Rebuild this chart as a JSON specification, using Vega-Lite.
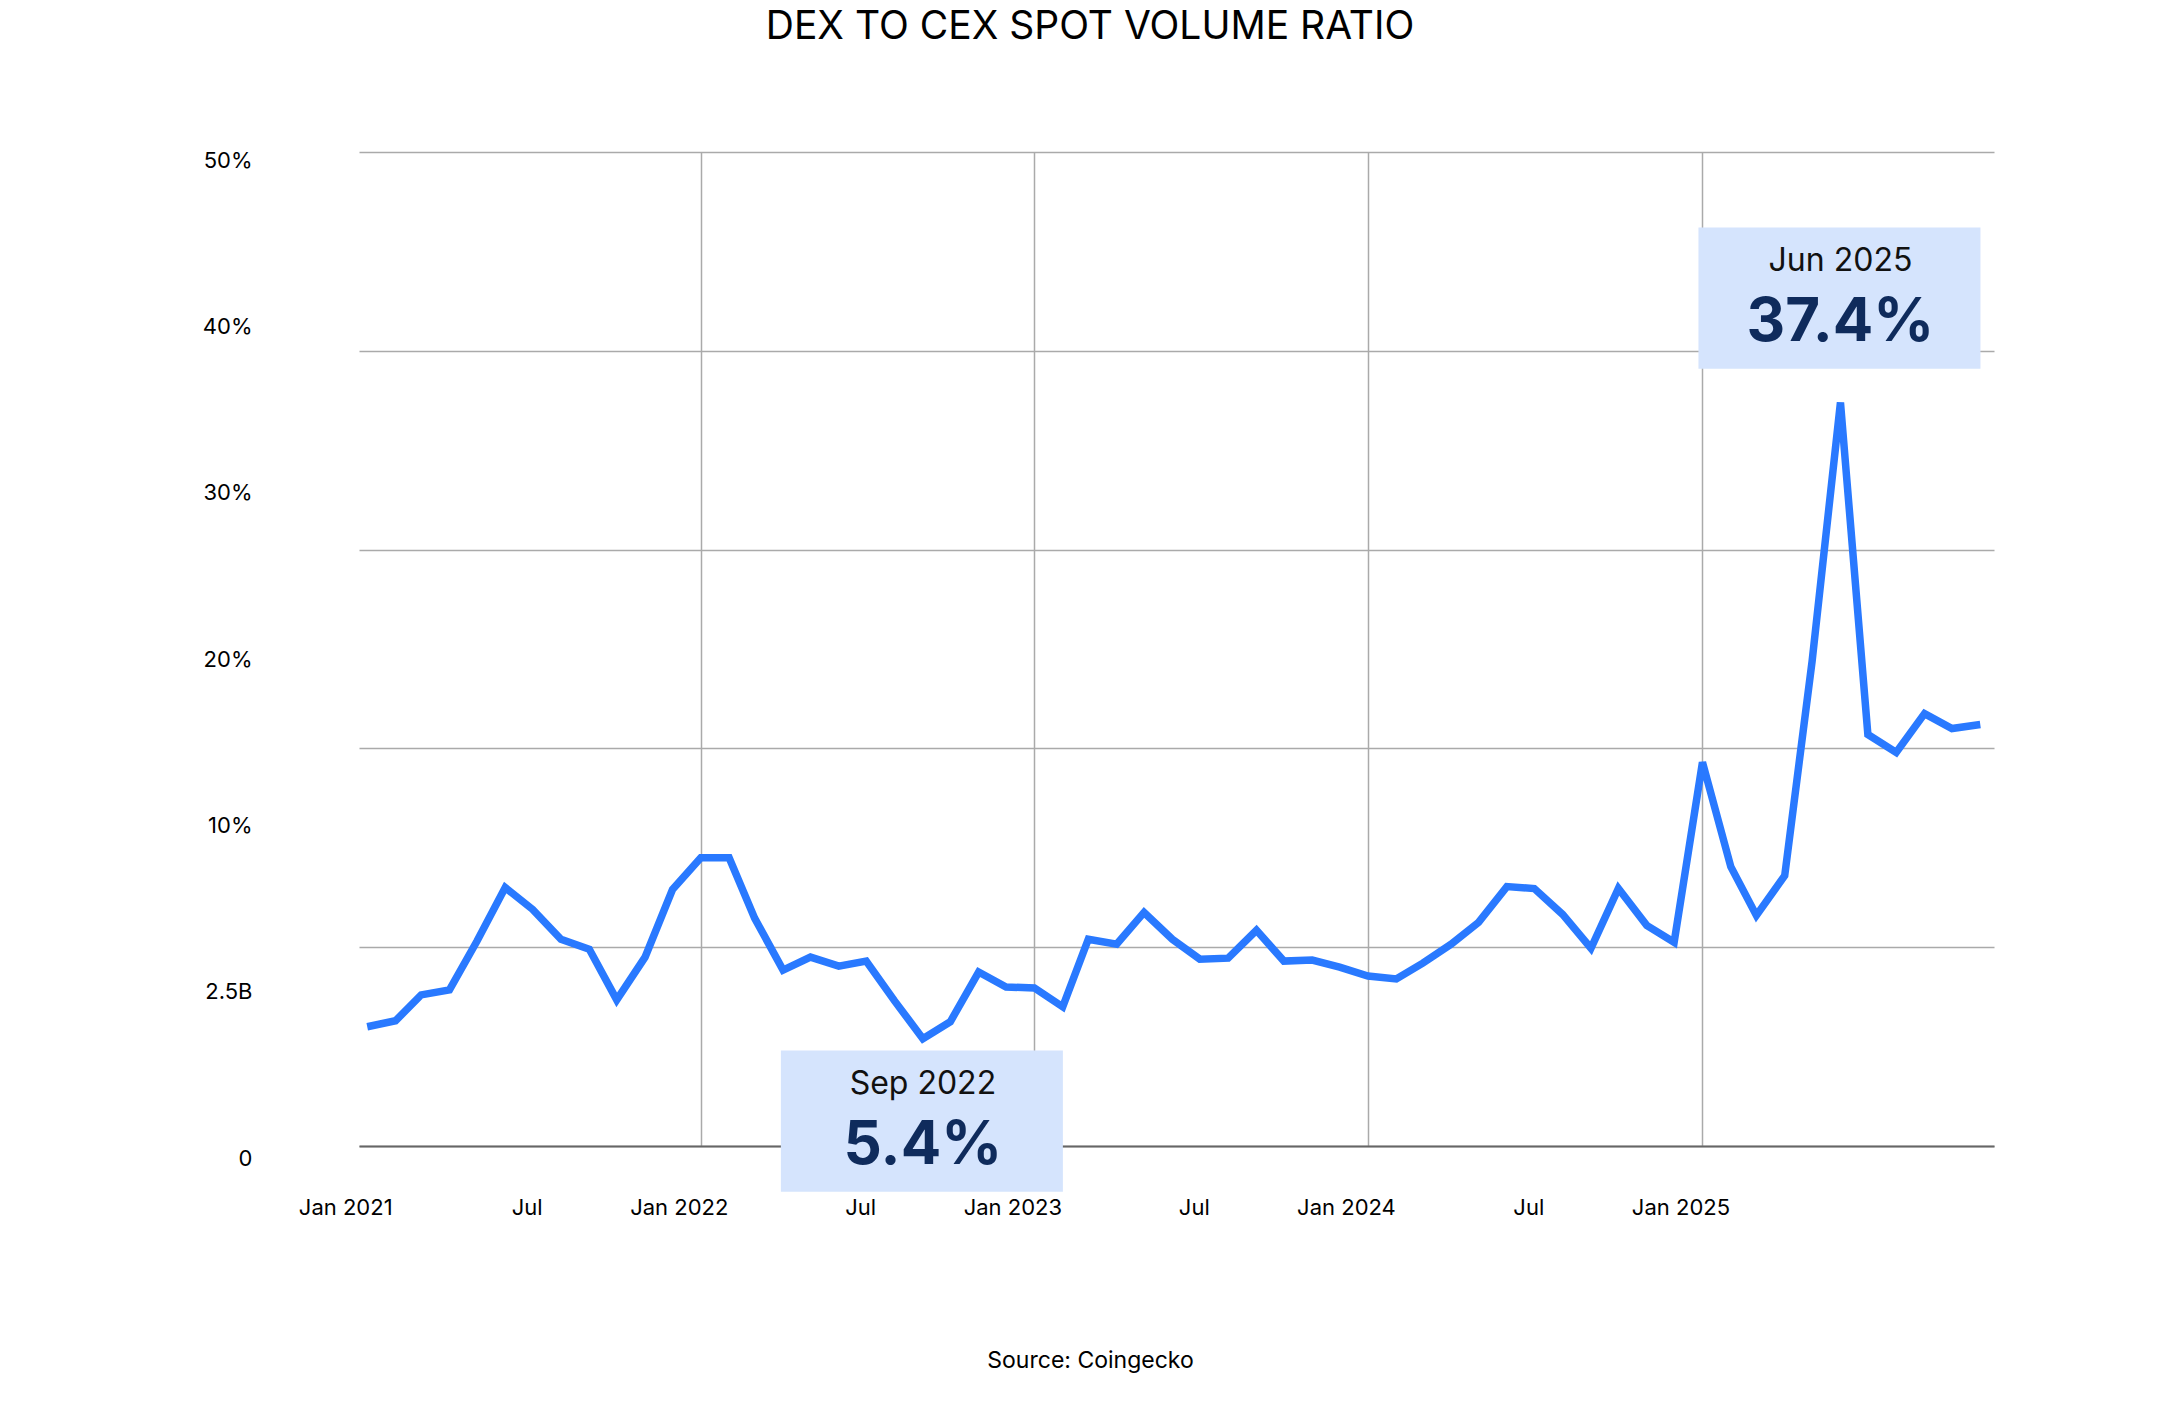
{
  "$schema": "https://vega.github.io/schema/vega-lite/v6.json",
  "width": 1635,
  "height": 994,
  "autosize": {"type": "none"},
  "padding": {"left": 359, "top": 152, "right": 186, "bottom": 279},
  "background": "white",
  "title": {
    "text": "DEX TO CEX SPOT VOLUME RATIO",
    "font": "Inter",
    "fontSize": 39,
    "fontWeight": "normal",
    "color": "#000000",
    "anchor": "middle",
    "frame": "group",
    "dx": -86.5,
    "baseline": "middle",
    "offset": 83
  },
  "config": {"view": {"stroke": null}, "font": "Inter"},
  "datasets": {
    "ratio": [
      {"month": "2021-01-01", "ratio": 6.0},
      {"month": "2021-02-01", "ratio": 6.3},
      {"month": "2021-03-01", "ratio": 7.6},
      {"month": "2021-04-01", "ratio": 7.85},
      {"month": "2021-05-01", "ratio": 10.3},
      {"month": "2021-06-01", "ratio": 13.0},
      {"month": "2021-07-01", "ratio": 11.9},
      {"month": "2021-08-01", "ratio": 10.4},
      {"month": "2021-09-01", "ratio": 9.9},
      {"month": "2021-10-01", "ratio": 7.35},
      {"month": "2021-11-01", "ratio": 9.5},
      {"month": "2021-12-01", "ratio": 12.9},
      {"month": "2022-01-01", "ratio": 14.5},
      {"month": "2022-02-01", "ratio": 14.5},
      {"month": "2022-03-01", "ratio": 11.45},
      {"month": "2022-04-01", "ratio": 8.85},
      {"month": "2022-05-01", "ratio": 9.5},
      {"month": "2022-06-01", "ratio": 9.05},
      {"month": "2022-07-01", "ratio": 9.3},
      {"month": "2022-08-01", "ratio": 7.3},
      {"month": "2022-09-01", "ratio": 5.4},
      {"month": "2022-10-01", "ratio": 6.25},
      {"month": "2022-11-01", "ratio": 8.75},
      {"month": "2022-12-01", "ratio": 8.0},
      {"month": "2023-01-01", "ratio": 7.95},
      {"month": "2023-02-01", "ratio": 7.0},
      {"month": "2023-03-01", "ratio": 10.4},
      {"month": "2023-04-01", "ratio": 10.15},
      {"month": "2023-05-01", "ratio": 11.75},
      {"month": "2023-06-01", "ratio": 10.4},
      {"month": "2023-07-01", "ratio": 9.4},
      {"month": "2023-08-01", "ratio": 9.45},
      {"month": "2023-09-01", "ratio": 10.85},
      {"month": "2023-10-01", "ratio": 9.3},
      {"month": "2023-11-01", "ratio": 9.35},
      {"month": "2023-12-01", "ratio": 9.0},
      {"month": "2024-01-01", "ratio": 8.55},
      {"month": "2024-02-01", "ratio": 8.4},
      {"month": "2024-03-01", "ratio": 9.2},
      {"month": "2024-04-01", "ratio": 10.15},
      {"month": "2024-05-01", "ratio": 11.25},
      {"month": "2024-06-01", "ratio": 13.05},
      {"month": "2024-07-01", "ratio": 12.95},
      {"month": "2024-08-01", "ratio": 11.65},
      {"month": "2024-09-01", "ratio": 9.95},
      {"month": "2024-10-01", "ratio": 12.95},
      {"month": "2024-11-01", "ratio": 11.1},
      {"month": "2024-12-01", "ratio": 10.25},
      {"month": "2025-01-01", "ratio": 19.3},
      {"month": "2025-02-01", "ratio": 14.05},
      {"month": "2025-03-01", "ratio": 11.6},
      {"month": "2025-04-01", "ratio": 13.6},
      {"month": "2025-05-01", "ratio": 24.4},
      {"month": "2025-06-01", "ratio": 37.4},
      {"month": "2025-07-01", "ratio": 20.7},
      {"month": "2025-08-01", "ratio": 19.8},
      {"month": "2025-09-01", "ratio": 21.75},
      {"month": "2025-10-01", "ratio": 21.0},
      {"month": "2025-11-01", "ratio": 21.2}
    ],
    "ylabels": [
      {"label": "0"},
      {"label": "2.5B"},
      {"label": "10%"},
      {"label": "20%"},
      {"label": "30%"},
      {"label": "40%"},
      {"label": "50%"}
    ],
    "notes": [
      {"month": "2025-06-01", "top": 46.2, "bottom": 39.1, "when": "Jun 2025", "pct": "37.4%"},
      {"month": "2022-09-01", "top": 4.8, "bottom": -2.3, "when": "Sep 2022", "pct": "5.4%"}
    ]
  },
  "layer": [
    {
      "data": {"name": "ratio"},
      "mark": {"type": "line", "color": "#2979ff", "strokeWidth": 7.5, "strokeJoin": "miter"},
      "encoding": {
        "x": {
          "field": "month",
          "type": "temporal",
          "scale": {
            "type": "utc",
            "domain": [
              {"year": 2020, "month": 12, "date": 23, "utc": true},
              {"year": 2025, "month": 11, "date": 16, "utc": true}
            ]
          },
          "axis": {
            "values": [
              {"year": 2021, "month": 1, "date": 1, "utc": true},
              {"year": 2021, "month": 7, "date": 1, "utc": true},
              {"year": 2022, "month": 1, "date": 1, "utc": true},
              {"year": 2022, "month": 7, "date": 1, "utc": true},
              {"year": 2023, "month": 1, "date": 1, "utc": true},
              {"year": 2023, "month": 7, "date": 1, "utc": true},
              {"year": 2024, "month": 1, "date": 1, "utc": true},
              {"year": 2024, "month": 7, "date": 1, "utc": true},
              {"year": 2025, "month": 1, "date": 1, "utc": true}
            ],
            "labelExpr": "utcmonth(datum.value) == 0 ? utcFormat(datum.value, '%b %Y') : 'Jul'",
            "grid": true,
            "gridColor": "#aaaaaa",
            "gridWidth": 1.5,
            "gridOpacity": {"condition": {"test": "utcmonth(datum.value) == 0 && utcyear(datum.value) > 2021", "value": 1}, "value": 0},
            "ticks": false,
            "tickSize": 0,
            "domain": true,
            "domainColor": "#666666",
            "domainWidth": 2,
            "labelFont": "Inter",
            "labelFontSize": 22,
            "labelColor": "#000000",
            "labelPadding": 61,
            "labelBaseline": "middle",
            "labelAlign": "center",
            "labelOffset": {"condition": {"test": "utcmonth(datum.value) == 0", "value": -22}, "value": -6},
            "labelFlush": false,
            "labelOverlap": false,
            "title": "Source: Coingecko",
            "titleFont": "Inter",
            "titleFontSize": 23,
            "titleFontWeight": "normal",
            "titleColor": "#000000",
            "titlePadding": 131,
            "titleX": 731,
            "titleAlign": "center"
          }
        },
        "y": {
          "field": "ratio",
          "type": "quantitative",
          "scale": {"domain": [0, 50], "nice": false, "zero": true},
          "axis": {
            "values": [0, 10, 20, 30, 40, 50],
            "grid": true,
            "gridColor": "#aaaaaa",
            "gridWidth": 1.5,
            "labels": false,
            "ticks": false,
            "tickSize": 0,
            "domain": false,
            "title": null
          }
        }
      }
    },
    {
      "data": {"name": "ylabels"},
      "mark": {"type": "point", "opacity": 0},
      "encoding": {
        "y": {
          "field": "label",
          "type": "ordinal",
          "scale": {"type": "point", "domain": ["0", "2.5B", "10%", "20%", "30%", "40%", "50%"], "range": [1006, 8], "padding": 0},
          "axis": {
            "orient": "left",
            "title": null,
            "grid": false,
            "ticks": false,
            "tickSize": 0,
            "domain": false,
            "labelPadding": 107,
            "labelFont": "Inter",
            "labelFontSize": 22,
            "labelColor": "#000000",
            "labelAlign": "right",
            "labelBaseline": "middle"
          }
        }
      }
    },
    {
      "data": {"name": "notes"},
      "mark": {"type": "rect", "color": "#d5e4fd", "xOffset": -142, "x2Offset": 140},
      "encoding": {
        "x": {"field": "month", "type": "temporal"},
        "x2": {"field": "month"},
        "y": {"field": "top", "type": "quantitative", "scale": {"domain": [0, 50], "nice": false}, "axis": null},
        "y2": {"field": "bottom"}
      }
    },
    {
      "data": {"name": "notes"},
      "mark": {"type": "text", "font": "Inter", "fontSize": 32, "color": "#111111", "align": "center", "baseline": "middle", "dy": 33},
      "encoding": {
        "x": {"field": "month", "type": "temporal"},
        "y": {"field": "top", "type": "quantitative", "scale": {"domain": [0, 50], "nice": false}, "axis": null},
        "text": {"field": "when"}
      }
    },
    {
      "data": {"name": "notes"},
      "mark": {"type": "text", "font": "Inter", "fontSize": 60, "fontWeight": "bold", "color": "#0f2b5c", "align": "center", "baseline": "middle", "dy": 95.5},
      "encoding": {
        "x": {"field": "month", "type": "temporal"},
        "y": {"field": "top", "type": "quantitative", "scale": {"domain": [0, 50], "nice": false}, "axis": null},
        "text": {"field": "pct"}
      }
    }
  ],
  "resolve": {"scale": {"y": "independent"}}
}
